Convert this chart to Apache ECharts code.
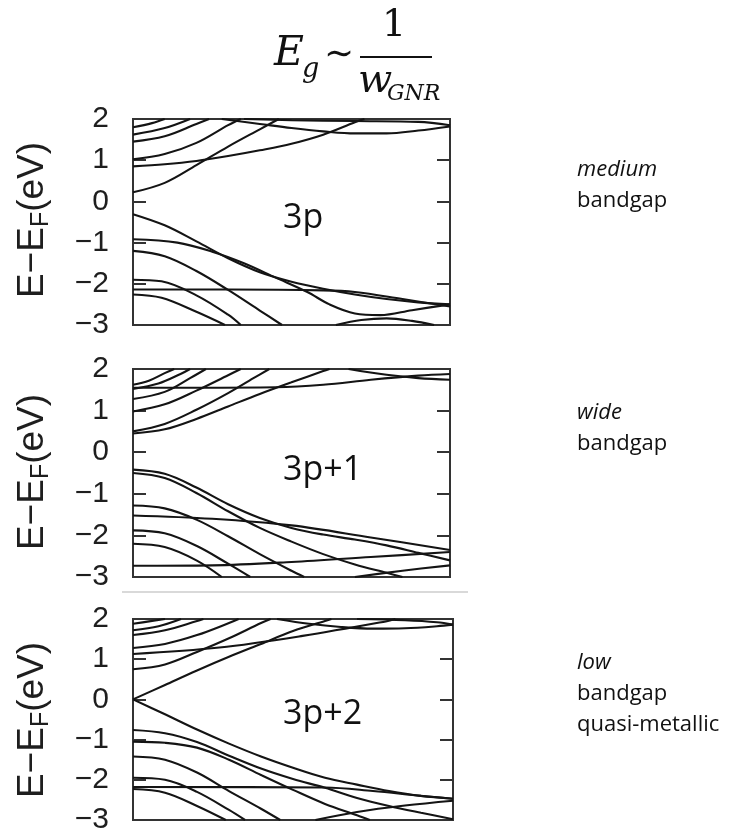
<!DOCTYPE html>
<html>
<head>
<meta charset="utf-8">
<script src="https://cdn.jsdelivr.net/npm/echarts@6/dist/echarts.min.js"></script>
<style>html,body{margin:0;padding:0;background:#fff}#c{width:746px;height:835px}</style>
</head>
<body>
<div id="c"></div>
<script>
// ---- data (k from Gamma=0 to X=1, energy in eV) ----
const panelNames = ['3p', '3p+1', '3p+2'];
const yTicks = [-3, -2, -1, 0, 1, 2];
const gapNotes = [['medium', 'bandgap'], ['wide', 'bandgap'], ['low', 'bandgap', 'quasi-metallic']];

const bands3p = [
  [[0,0.22],[0.1,0.45],[0.2,0.88],[0.3,1.33],[0.4,1.75],[0.46,2.0]],
  [[0,0.85],[0.1,0.9],[0.2,0.98],[0.3,1.1],[0.4,1.24],[0.5,1.4],[0.6,1.62],[0.7,1.92],[0.73,2.0]],
  [[0,1.02],[0.1,1.15],[0.2,1.42],[0.3,1.85],[0.34,2.0]],
  [[0,1.45],[0.1,1.58],[0.2,1.88],[0.24,2.0]],
  [[0,1.62],[0.1,1.78],[0.18,2.0]],
  [[0,1.8],[0.06,1.9],[0.1,2.0]],
  [[0.28,2.0],[0.4,1.88],[0.5,1.78],[0.6,1.7],[0.7,1.65],[0.8,1.65],[0.9,1.72],[1.0,1.82]],
  [[0.35,2.0],[0.5,1.97],[0.7,1.95],[0.9,1.93],[1.0,1.85]],
  [[0,-0.31],[0.1,-0.58],[0.2,-0.97],[0.3,-1.38],[0.4,-1.72],[0.5,-1.95],[0.6,-2.12],[0.7,-2.26],[0.8,-2.37],[0.9,-2.45],[1.0,-2.5]],
  [[0,-0.92],[0.14,-1.0],[0.25,-1.22],[0.35,-1.5],[0.45,-1.85],[0.55,-2.2],[0.62,-2.5],[0.7,-2.72],[0.78,-2.76],[0.88,-2.64],[1.0,-2.5]],
  [[0,-1.2],[0.1,-1.33],[0.2,-1.69],[0.3,-2.15],[0.4,-2.65],[0.47,-3.0]],
  [[0,-2.14],[0.3,-2.14],[0.6,-2.16],[0.7,-2.2],[0.85,-2.37],[1.0,-2.55]],
  [[0,-1.9],[0.09,-1.94],[0.2,-2.28],[0.3,-2.75],[0.34,-3.0]],
  [[0,-2.26],[0.09,-2.34],[0.2,-2.68],[0.29,-3.0]],
  [[0.64,-3.0],[0.72,-2.88],[0.8,-2.84],[0.88,-2.9],[0.95,-3.0]]
];

const bands3p1 = [
  [[0,0.45],[0.1,0.55],[0.2,0.8],[0.3,1.1],[0.4,1.4],[0.5,1.68],[0.6,1.95],[0.62,2.0]],
  [[0,0.5],[0.1,0.68],[0.2,1.02],[0.3,1.42],[0.38,1.78],[0.43,2.0]],
  [[0,0.98],[0.1,1.15],[0.2,1.48],[0.3,1.85],[0.34,2.0]],
  [[0,1.28],[0.1,1.45],[0.18,1.78],[0.23,2.0]],
  [[0,1.52],[0.08,1.65],[0.15,1.88],[0.18,2.0]],
  [[0,1.62],[0.05,1.72],[0.1,1.9],[0.13,2.0]],
  [[0,1.55],[0.2,1.55],[0.45,1.56],[0.6,1.62],[0.75,1.74],[0.9,1.84],[1.0,1.88]],
  [[0.68,2.0],[0.8,1.86],[0.9,1.78],[1.0,1.74]],
  [[0,-0.42],[0.1,-0.52],[0.2,-0.85],[0.3,-1.25],[0.4,-1.58],[0.5,-1.82],[0.6,-1.98],[0.7,-2.1],[0.8,-2.24],[0.9,-2.42],[1.0,-2.6]],
  [[0,-0.5],[0.1,-0.62],[0.2,-0.98],[0.3,-1.42],[0.4,-1.82],[0.5,-2.15],[0.6,-2.45],[0.7,-2.7],[0.8,-2.9],[0.85,-3.0]],
  [[0,-1.28],[0.1,-1.35],[0.2,-1.62],[0.3,-2.02],[0.4,-2.45],[0.5,-2.85],[0.54,-3.0]],
  [[0,-1.52],[0.25,-1.6],[0.5,-1.76],[0.75,-2.05],[1.0,-2.35]],
  [[0,-1.88],[0.1,-1.95],[0.2,-2.25],[0.3,-2.68],[0.37,-3.0]],
  [[0,-2.2],[0.1,-2.28],[0.2,-2.6],[0.28,-3.0]],
  [[0,-2.73],[0.25,-2.72],[0.5,-2.64],[0.75,-2.52],[1.0,-2.4]],
  [[0.7,-3.0],[0.85,-2.85],[1.0,-2.72]]
];

const bands3p2 = [
  [[0,0],[0.1,0.36],[0.2,0.72],[0.3,1.06],[0.4,1.38],[0.5,1.7],[0.6,1.95],[0.62,2.0]],
  [[0,0.75],[0.1,0.87],[0.2,1.18],[0.3,1.52],[0.4,1.9],[0.43,2.0]],
  [[0,1.13],[0.27,1.29],[0.53,1.58],[0.79,1.94],[0.82,2.0]],
  [[0,1.28],[0.1,1.38],[0.2,1.6],[0.3,1.9],[0.33,2.0]],
  [[0,1.6],[0.1,1.72],[0.2,1.95],[0.22,2.0]],
  [[0,1.72],[0.08,1.82],[0.15,2.0]],
  [[0,1.88],[0.05,1.94],[0.1,2.0]],
  [[0.45,2.0],[0.55,1.88],[0.65,1.8],[0.75,1.76],[0.85,1.77],[0.95,1.82],[1.0,1.86]],
  [[0.7,2.0],[0.85,1.97],[0.95,1.92],[1.0,1.86]],
  [[0,0],[0.1,-0.37],[0.2,-0.75],[0.3,-1.1],[0.4,-1.42],[0.5,-1.7],[0.6,-1.95],[0.7,-2.12],[0.8,-2.28],[0.9,-2.4],[1.0,-2.47]],
  [[0,-0.76],[0.1,-0.84],[0.2,-1.06],[0.3,-1.4],[0.4,-1.72],[0.5,-1.98],[0.6,-2.2],[0.7,-2.45],[0.8,-2.65],[0.9,-2.82],[1.0,-2.98]],
  [[0,-1.05],[0.1,-1.08],[0.2,-1.2],[0.3,-1.5],[0.4,-1.88],[0.5,-2.25],[0.6,-2.6],[0.7,-2.88],[0.74,-3.0]],
  [[0,-1.42],[0.1,-1.5],[0.2,-1.82],[0.3,-2.28],[0.4,-2.72],[0.46,-3.0]],
  [[0,-1.95],[0.1,-2.0],[0.2,-2.3],[0.3,-2.75],[0.35,-3.0]],
  [[0,-2.18],[0.6,-2.19],[0.75,-2.28],[0.9,-2.4],[1.0,-2.47]],
  [[0,-2.23],[0.1,-2.32],[0.2,-2.65],[0.29,-3.0]],
  [[0.57,-3.0],[0.7,-2.8],[0.85,-2.64],[1.0,-2.52]]
];

const allBands = [bands3p, bands3p1, bands3p2];

// ---- layout ----
const grids = [
  {left: 133, top: 119, width: 317, height: 206},
  {left: 133, top: 369, width: 317, height: 208},
  {left: 133, top: 619, width: 320, height: 204}
];
const INK = '#141414';
const minusFmt = v => String(v).replace('-', '\u2212');

const option = {
  animation: false,
  backgroundColor: '#fff',
  grid: grids.map(g => Object.assign({show: true, borderColor: '#333', borderWidth: 2, backgroundColor: 'transparent'}, g)),
  xAxis: grids.map((g, i) => ({
    type: 'value', gridIndex: i, min: 0, max: 1,
    axisLine: {show: false}, axisTick: {show: false}, axisLabel: {show: false}, splitLine: {show: false}
  })),
  yAxis: [],
  series: [],
  graphic: []
};

grids.forEach((g, i) => {
  option.yAxis.push({
    type: 'value', gridIndex: i, min: yTicks[0], max: yTicks[yTicks.length - 1], interval: 1, position: 'left',
    axisLine: {show: false},
    axisTick: {show: true, inside: true, length: 13, lineStyle: {color: '#333', width: 2}},
    axisLabel: {fontSize: 30, fontFamily: 'Liberation Sans', color: '#1e1e1e', margin: 24, formatter: minusFmt},
    splitLine: {show: false}
  });
  option.yAxis.push({
    type: 'value', gridIndex: i, min: yTicks[0], max: yTicks[yTicks.length - 1], interval: 1, position: 'right',
    axisLine: {show: false},
    axisTick: {show: true, inside: true, length: 13, lineStyle: {color: '#333', width: 2}},
    axisLabel: {show: false}, splitLine: {show: false}
  });
  allBands[i].forEach(b => {
    option.series.push({
      type: 'line', xAxisIndex: i, yAxisIndex: 2 * i, data: b,
      showSymbol: false, smooth: 0.35, clip: true, silent: true,
      lineStyle: {color: INK, width: 2.1}
    });
  });
});

// y axis names
const nameY = [220, 472, 720];
nameY.forEach(y => {
  option.graphic.push({
    type: 'text', x: 33, y: y, rotation: Math.PI / 2,
    style: {
      text: '{a|E\u2212E}{s|F}{a|(eV)}',
      align: 'center', verticalAlign: 'middle',
      rich: {
        a: {fontSize: 37, fontFamily: 'Liberation Sans', fill: '#1e1e1e', lineHeight: 42},
        s: {fontSize: 25, fontFamily: 'Liberation Sans', fill: '#1e1e1e', lineHeight: 42, verticalAlign: 'bottom'}
      }
    }
  });
});

// panel labels
const labelPos = [[283, 218], [283, 470], [283, 714]];
panelNames.forEach((t, i) => {
  option.graphic.push({
    type: 'text', x: labelPos[i][0], y: labelPos[i][1],
    style: {text: t, fontSize: 34, fontFamily: 'Open Sans', fill: '#111', align: 'left', verticalAlign: 'middle'}
  });
});

// gap notes on the right
const noteTop = [170, 413, 663];
gapNotes.forEach((lines, i) => {
  lines.forEach((t, j) => {
    option.graphic.push({
      type: 'text', x: 577, y: noteTop[i] + j * 31,
      style: {text: t, fontSize: 22, fontFamily: 'Open Sans', fill: '#111', align: 'left', verticalAlign: 'middle',
              fontStyle: j === 0 ? 'italic' : 'normal'}
    });
  });
});

// separator line between panel 2 and 3
option.graphic.push({type: 'line', shape: {x1: 122, y1: 592, x2: 468, y2: 592}, style: {stroke: '#d9d9d9', lineWidth: 2}});

// formula  E_g ~ 1 / w_GNR
const serif = 'DejaVu Serif';
option.graphic.push(
  {type: 'text', x: 274, y: 54, style: {text: 'E', fontSize: 41, fontFamily: serif, fontStyle: 'italic', fill: '#111', align: 'left', verticalAlign: 'middle'}},
  {type: 'text', x: 302, y: 70, style: {text: 'g', fontSize: 27, fontFamily: serif, fontStyle: 'italic', fill: '#111', align: 'left', verticalAlign: 'middle'}},
  {type: 'text', x: 339, y: 56, style: {text: '\u223C', fontSize: 36, fontFamily: serif, fill: '#111', align: 'center', verticalAlign: 'middle'}},
  {type: 'line', shape: {x1: 360, y1: 57, x2: 432, y2: 57}, style: {stroke: '#111', lineWidth: 2}},
  {type: 'text', x: 394, y: 26, style: {text: '1', fontSize: 38, fontFamily: serif, fill: '#111', align: 'center', verticalAlign: 'middle'}},
  {type: 'text', x: 358, y: 82, style: {text: 'w', fontSize: 40, fontFamily: serif, fontStyle: 'italic', fill: '#111', align: 'left', verticalAlign: 'middle'}},
  {type: 'text', x: 387, y: 94, style: {text: 'GNR', fontSize: 22, fontFamily: serif, fontStyle: 'italic', fill: '#111', align: 'left', verticalAlign: 'middle'}}
);

const chart = echarts.init(document.getElementById('c'), null, {renderer: 'canvas'});
chart.setOption(option);
</script>
</body>
</html>
